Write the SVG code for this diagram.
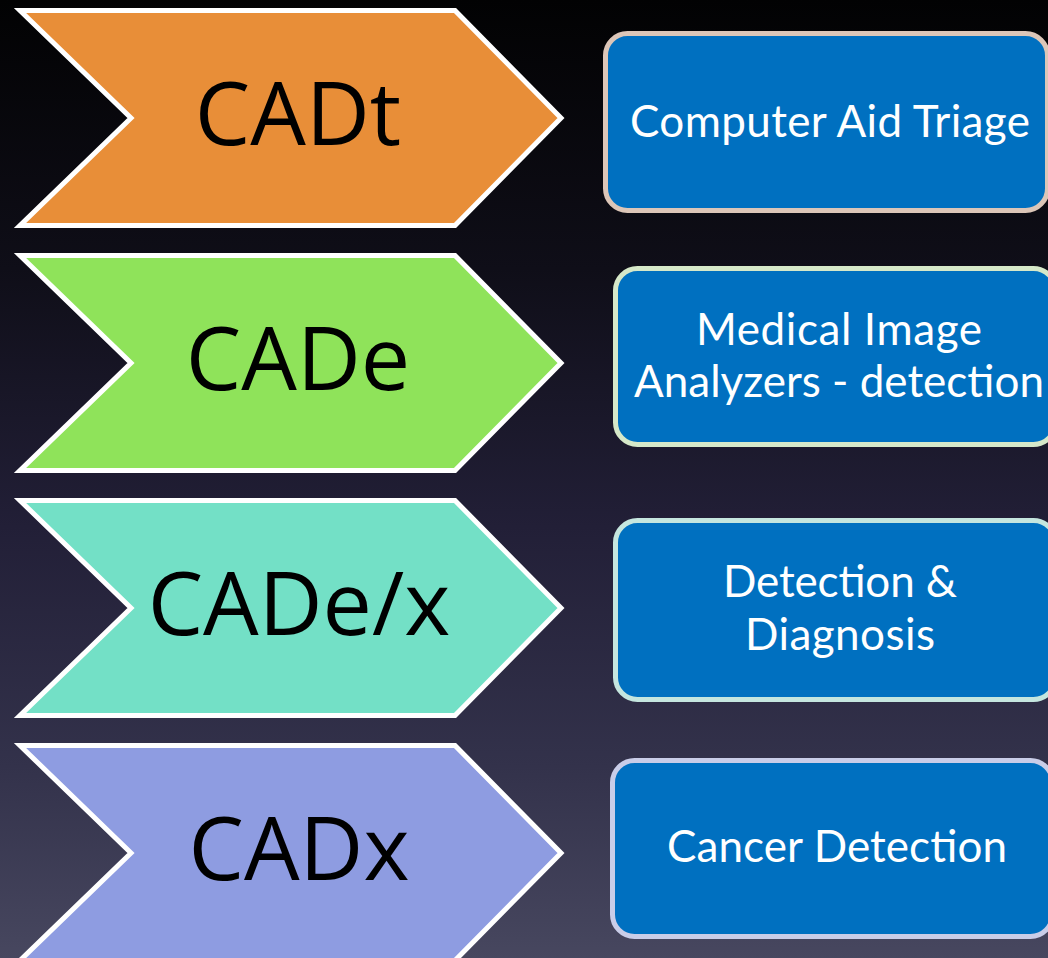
<svg xmlns="http://www.w3.org/2000/svg" width="1048" height="958" viewBox="0 0 1048 958">
  <defs>
    <linearGradient id="bg" x1="0" y1="0" x2="0" y2="1">
      <stop offset="0" stop-color="#020203"/>
      <stop offset="0.28" stop-color="#0f0e18"/>
      <stop offset="0.55" stop-color="#221f37"/>
      <stop offset="0.8" stop-color="#33324b"/>
      <stop offset="1" stop-color="#47475f"/>
    </linearGradient>
    <!-- chevron outline, drawn at the top row and shifted per row -->
    <path id="chev" d="M20,10.5 L455,10.5 L561,118 L455,225.5 L20,225.5 L131,118 Z"/>
  </defs>
  <style>
    .chev { stroke: #ffffff; stroke-width: 5; stroke-linejoin: miter; }
    .tag { font-family: "Open Sans", "DejaVu Sans", sans-serif; font-size: 88px; fill: #000000; text-anchor: middle; }
    .box { fill: #0070c0; stroke-width: 5; }
    .desc { font-family: Lato, "Open Sans", sans-serif; font-size: 44px; fill: #ffffff; text-anchor: middle; }
  </style>

  <rect x="0" y="0" width="1048" height="958" fill="url(#bg)"/>

  <g id="cadt">
    <use href="#chev" class="chev" fill="#e88e38"/>
    <text class="tag" x="298" y="145">CADt</text>
  </g>
  <g id="cade">
    <use href="#chev" class="chev" fill="#8fe35a" transform="translate(0,245)"/>
    <text class="tag" x="298" y="390">CADe</text>
  </g>
  <g id="cadex">
    <use href="#chev" class="chev" fill="#73e0c6" transform="translate(0,490)"/>
    <text class="tag" x="299" y="635">CADe/x</text>
  </g>
  <g id="cadx">
    <use href="#chev" class="chev" fill="#8e9ce1" transform="translate(0,735)"/>
    <text class="tag" x="299" y="880">CADx</text>
  </g>

  <g id="triage">
    <rect class="box" x="605.5" y="33.5" width="442" height="177" rx="22" stroke="#dcc6b8"/>
    <text class="desc" x="830" y="137" textLength="400">Computer Aid Triage</text>
  </g>
  <g id="analyzers">
    <rect class="box" x="615.5" y="268.5" width="440" height="176" rx="22" stroke="#d6e8c9"/>
    <text class="desc" x="839" y="345" textLength="286">Medical Image</text>
    <text class="desc" x="839" y="397">Analyzers - detection</text>
  </g>
  <g id="diagnosis">
    <rect class="box" x="615.5" y="520.5" width="440" height="179" rx="22" stroke="#c5e6df"/>
    <text class="desc" x="840" y="597" textLength="234">Detection &amp;</text>
    <text class="desc" x="840" y="650" textLength="190">Diagnosis</text>
  </g>
  <g id="cancer">
    <rect class="box" x="612.5" y="760.5" width="440" height="176" rx="22" stroke="#c9cde8"/>
    <text class="desc" x="837" y="862" textLength="340">Cancer Detection</text>
  </g>
</svg>
